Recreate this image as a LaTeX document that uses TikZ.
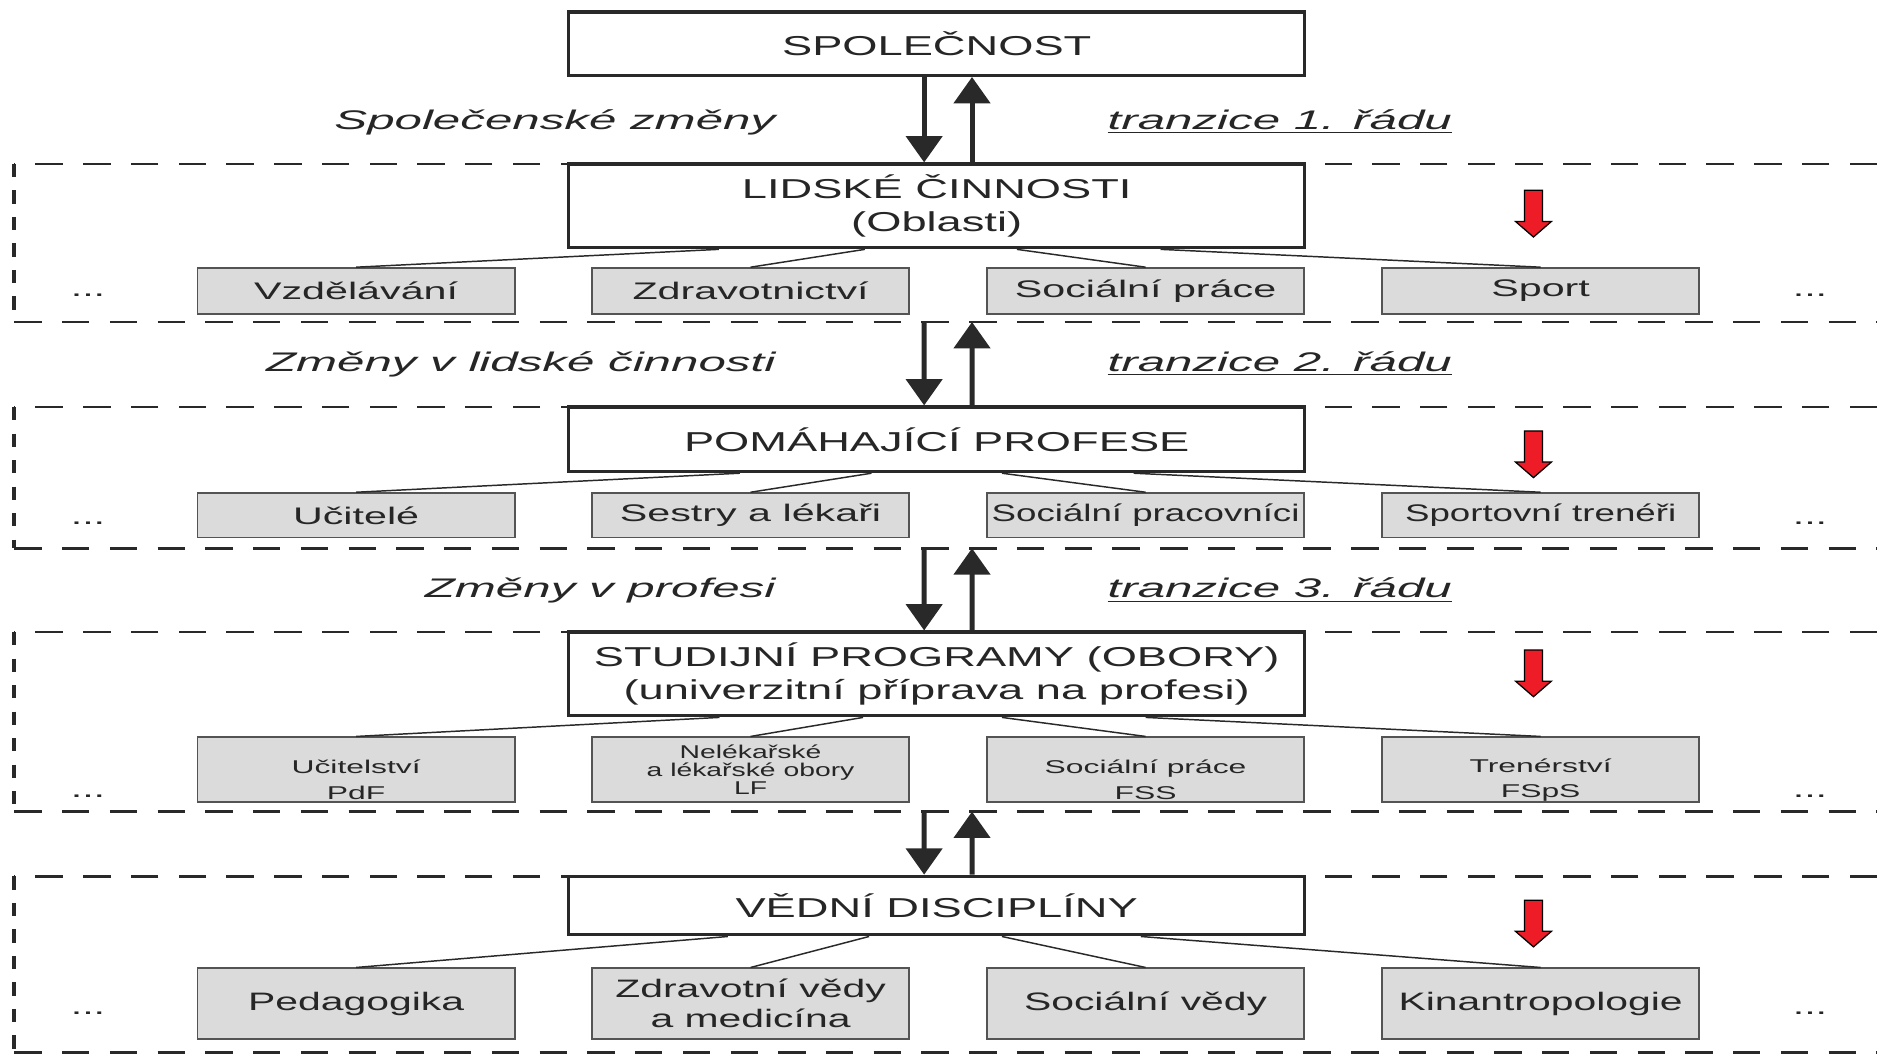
\documentclass[tikz,border=0pt]{standalone}
\usepackage{fontspec}
\setmainfont{Liberation Sans}
\newfontfamily\titlefont[FakeStretch=1.655]{Liberation Sans}
\newfontfamily\headfont[FakeStretch=1.72]{Liberation Sans}
\newfontfamily\gapfont[FakeStretch=1.83]{Liberation Sans}
\newfontfamily\narrowfont[FakeStretch=1.53]{Liberation Sans}
\newfontfamily\scifont[FakeStretch=1.62]{Liberation Sans}
\usetikzlibrary{arrows.meta}
\definecolor{linegray}{rgb}{0.16, 0.16, 0.16}
\definecolor{textgray}{rgb}{0.15, 0.15, 0.15}
\definecolor{boxgray}{rgb}{0.86, 0.86, 0.86}
\definecolor{boxborder}{rgb}{0.33, 0.33, 0.33}
\definecolor{arrowred}{rgb}{0.93, 0.11, 0.15}

\begin{document}
\begin{tikzpicture}[x=0.02cm, y=-0.02cm]
    \tikzstyle{main_box} = [draw=linegray, line width=1.5pt, fill=white, minimum width=12.3cm, inner sep=0pt, text=textgray, align=center, font=\titlefont\fontsize{13}{15.6}\selectfont]
    \tikzstyle{item_box} = [draw=boxborder, line width=0.9pt, fill=boxgray, minimum width=5.3cm, inner sep=0pt, text=textgray, align=center, font=\headfont\fontsize{11.4}{13}\selectfont]
    \tikzstyle{link_style} = [linegray, line width=0.7pt]
    \tikzstyle{flow_style} = [-{Triangle[length=12.5pt, width=17pt]}, line width=2.4pt, linegray]
    \tikzstyle{gap_label} = [text=textgray, inner sep=0pt, font=\gapfont\itshape\fontsize{12.8}{15}\selectfont]
    \tikzstyle{dots_label} = [text=textgray, inner sep=0pt, font=\headfont\fontsize{11.4}{13}\selectfont]
    \tikzstyle{dash_h} = [linegray, line width=1.25pt, dash pattern=on 13pt off 9.7pt]
    \tikzstyle{dash_v} = [linegray, line width=1.8pt, dash pattern=on 6.3pt off 6.3pt]
    \tikzstyle{red_arrow} = [fill=arrowred, draw=black, line width=0.6pt]

    \useasboundingbox (0,0) rectangle (1568,881.3);

    \begin{scope}
      \draw[dash_h] (1568,137) -- (12,137) (12,269) -- (1568,269);
      \draw[dash_v] (12,137) -- (12,269);
      \draw[dash_h] (1568,340) -- (12,340) (12,458) -- (1568,458);
      \draw[dash_v] (12,340) -- (12,458);
      \draw[dash_h] (1568,528) -- (12,528) (12,678) -- (1568,678);
      \draw[dash_v] (12,528) -- (12,678);
      \draw[dash_h] (1568,732) -- (12,732) (12,879) -- (1568,879);
      \draw[dash_v] (12,732) -- (12,879);
    \end{scope}

    \node[main_box, minimum height=1.06cm] (spol) at (782.5,36.5) {SPOLEČNOST};
    \node[main_box, minimum height=1.4cm] (lidske) at (782.5,172) {LIDSKÉ ČINNOSTI\\(Oblasti)};
    \node[main_box, minimum height=1.08cm] (pomah) at (782.5,367) {POMÁHAJÍCÍ PROFESE};
    \node[main_box, minimum height=1.4cm] (studij) at (782.5,563) {STUDIJNÍ PROGRAMY (OBORY)\\(univerzitní příprava na profesi)};
    \node[main_box, minimum height=0.98cm] (vedni) at (782.5,756.5) {VĚDNÍ DISCIPLÍNY};

    \node[item_box, minimum height=0.76cm] (vzdel) at (297.5,243) {Vzdělávání};
    \node[item_box, minimum height=0.76cm] (zdrav) at (627,243) {Zdravotnictví};
    \node[item_box, minimum height=0.76cm] (socpr) at (957,243) {Sociální práce};
    \node[item_box, minimum height=0.76cm] (sport) at (1287,243) {Sport};

    \node[item_box, minimum height=0.74cm] (ucit) at (297.5,430.5) {Učitelé};
    \node[item_box, minimum height=0.74cm] (sestry) at (627,430.5) {Sestry a lékaři};
    \node[item_box, minimum height=0.74cm, font=\narrowfont\fontsize{11.4}{13}\selectfont] (socprac) at (957,430.5) {Sociální pracovníci};
    \node[item_box, minimum height=0.74cm, font=\narrowfont\fontsize{11.4}{13}\selectfont] (trener) at (1287,430.5) {Sportovní trenéři};

    \node[item_box, minimum height=1.08cm, font=\headfont\fontsize{8.8}{12}\selectfont] (ucitelstvi) at (297.5,643) {\rule{0pt}{16pt}Učitelství\\PdF};
    \node[item_box, minimum height=1.08cm, font=\narrowfont\fontsize{8.8}{8.6}\selectfont] (nelek) at (627,643) {Nelékařské\\a lékařské obory\\LF};
    \node[item_box, minimum height=1.08cm, font=\headfont\fontsize{8.8}{12}\selectfont] (socobor) at (957,643) {\rule{0pt}{16pt}Sociální práce\\FSS};
    \node[item_box, minimum height=1.08cm, font=\headfont\fontsize{8.8}{12}\selectfont] (trenerstvi) at (1287,643) {\rule{0pt}{16pt}Trenérství\\FSpS};

    \node[item_box, minimum height=1.18cm, font=\scifont\fontsize{12}{14.2}\selectfont] (pedag) at (297.5,838.5) {Pedagogika};
    \node[item_box, minimum height=1.18cm, font=\scifont\fontsize{12}{14.2}\selectfont] (zdrvedy) at (627,838.5) {Zdravotní vědy\\a medicína};
    \node[item_box, minimum height=1.18cm, font=\scifont\fontsize{12}{14.2}\selectfont] (socvedy) at (957,838.5) {Sociální vědy};
    \node[item_box, minimum height=1.18cm, font=\scifont\fontsize{12}{14.2}\selectfont] (kinan) at (1287,838.5) {Kinantropologie};

    \draw[link_style] ([xshift=-3.64cm]lidske.south) -- (vzdel.north);
    \draw[link_style] ([xshift=-1.2cm]lidske.south) -- (zdrav.north);
    \draw[link_style] ([xshift=1.34cm]lidske.south) -- (socpr.north);
    \draw[link_style] ([xshift=3.74cm]lidske.south) -- (sport.north);
    \draw[link_style] ([xshift=-3.29cm]pomah.south) -- (ucit.north);
    \draw[link_style] ([xshift=-1.09cm]pomah.south) -- (sestry.north);
    \draw[link_style] ([xshift=1.09cm]pomah.south) -- (socprac.north);
    \draw[link_style] ([xshift=3.29cm]pomah.south) -- (trener.north);
    \draw[link_style] ([xshift=-3.63cm]studij.south) -- (ucitelstvi.north);
    \draw[link_style] ([xshift=-1.23cm]studij.south) -- (nelek.north);
    \draw[link_style] ([xshift=1.09cm]studij.south) -- (socobor.north);
    \draw[link_style] ([xshift=3.49cm]studij.south) -- (trenerstvi.north);
    \draw[link_style] ([xshift=-3.49cm]vedni.south) -- (pedag.north);
    \draw[link_style] ([xshift=-1.13cm]vedni.south) -- (zdrvedy.north);
    \draw[link_style] ([xshift=1.09cm]vedni.south) -- (socvedy.north);
    \draw[link_style] ([xshift=3.41cm]vedni.south) -- (kinan.north);

    \coordinate (reg1_dn) at (772,269);
    \coordinate (reg1_up) at (812,269);
    \coordinate (reg2_dn) at (772,458);
    \coordinate (reg2_up) at (812,458);
    \coordinate (reg3_dn) at (772,678);
    \coordinate (reg3_up) at (812,678);

    \draw[flow_style] ([xshift=-0.21cm]spol.south) -- ([xshift=-0.21cm]lidske.north);
    \draw[flow_style] ([xshift=0.59cm]lidske.north) -- ([xshift=0.59cm]spol.south);
    \draw[flow_style] (reg1_dn) -- ([xshift=-0.21cm]pomah.north);
    \draw[flow_style] ([xshift=0.59cm]pomah.north) -- (reg1_up);
    \draw[flow_style] (reg2_dn) -- ([xshift=-0.21cm]studij.north);
    \draw[flow_style] ([xshift=0.59cm]studij.north) -- (reg2_up);
    \draw[flow_style] (reg3_dn) -- ([xshift=-0.21cm]vedni.north);
    \draw[flow_style] ([xshift=0.59cm]vedni.north) -- (reg3_up);

    \node[gap_label, anchor=base east] (chg1) at (648,108) {Společenské změny};
    \node[gap_label, anchor=base west] (tr1) at (925,108) {\underline{tranzice 1. řádu}};
    \node[gap_label, anchor=base east] (chg2) at (648,310.5) {Změny v lidské činnosti};
    \node[gap_label, anchor=base west] (tr2) at (925,310.5) {\underline{tranzice 2. řádu}};
    \node[gap_label, anchor=base east] (chg3) at (648,499.5) {Změny v profesi};
    \node[gap_label, anchor=base west] (tr3) at (925,499.5) {\underline{tranzice 3. řádu}};

    \draw[red_arrow] (1273.5,159) -- ++(15,0) -- ++(0,26) -- ++(7.5,0) -- ++(-15,13) -- ++(-15,-13) -- ++(7.5,0) -- cycle;
    \draw[red_arrow] (1273.5,360) -- ++(15,0) -- ++(0,26) -- ++(7.5,0) -- ++(-15,13) -- ++(-15,-13) -- ++(7.5,0) -- cycle;
    \draw[red_arrow] (1273.5,543) -- ++(15,0) -- ++(0,26) -- ++(7.5,0) -- ++(-15,13) -- ++(-15,-13) -- ++(7.5,0) -- cycle;
    \draw[red_arrow] (1273.5,752) -- ++(15,0) -- ++(0,26) -- ++(7.5,0) -- ++(-15,13) -- ++(-15,-13) -- ++(7.5,0) -- cycle;

    \node[dots_label] (dl1) at (73.5,247) {...};
    \node[dots_label] (dr1) at (1512,247) {...};
    \node[dots_label] (dl2) at (73.5,437) {...};
    \node[dots_label] (dr2) at (1512,437) {...};
    \node[dots_label] (dl3) at (73.5,665) {...};
    \node[dots_label] (dr3) at (1512,665) {...};
    \node[dots_label] (dl4) at (73.5,846) {...};
    \node[dots_label] (dr4) at (1512,846) {...};
\end{tikzpicture}
\end{document}
